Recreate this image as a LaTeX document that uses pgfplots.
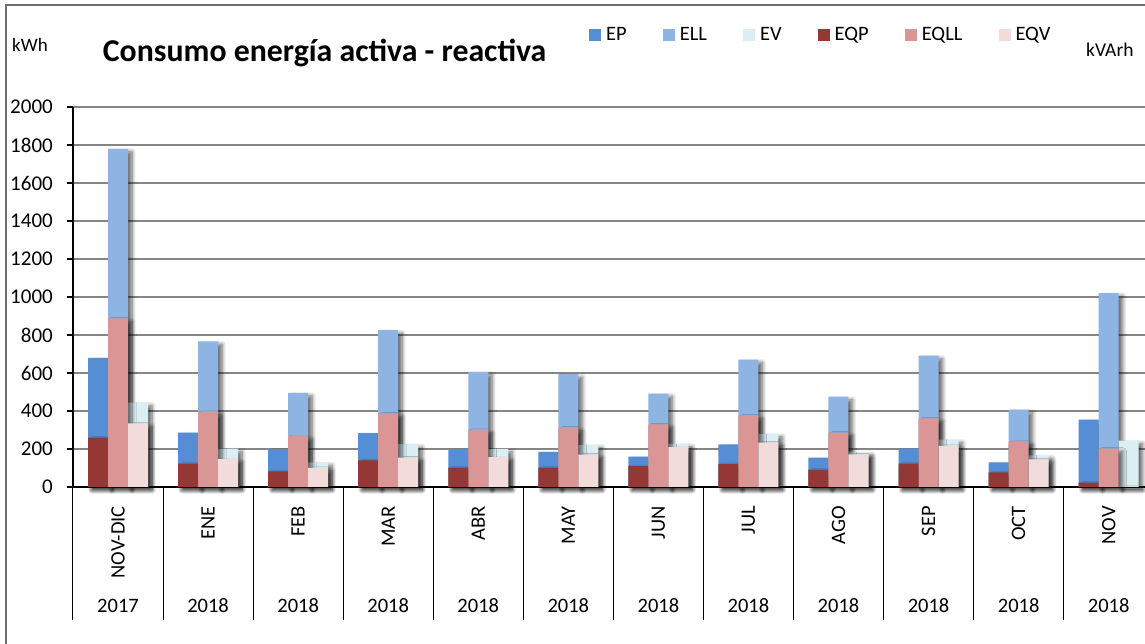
\documentclass[border=0pt]{standalone}
\usepackage{fontspec}
\setmainfont{Carlito}
\usepackage{pgfplots}
\usepackage{pgfplotstable}
\pgfplotsset{compat=1.18}
\usetikzlibrary{shadows.blur}
\definecolor{cEP}{HTML}{558ED5}
\definecolor{cELL}{HTML}{8EB4E3}
\definecolor{cEV}{HTML}{DBEEF4}
\definecolor{cEQP}{HTML}{953735}
\definecolor{cEQLL}{HTML}{D99694}
\definecolor{cEQV}{HTML}{F2DCDB}
\definecolor{gridgray}{HTML}{868686}
\definecolor{framegray}{HTML}{6E6E6E}
\tikzset{shad/.style={blur shadow={shadow xshift=4pt, shadow yshift=-3pt, shadow blur radius=4pt, shadow opacity=60, shadow blur steps=8}}}

\pgfplotstableread{
x EP ELL EV EQP EQLL EQV
0 680 1780 444 260 888 335
1 286 767 202 123 395 147
2 198 496 130 82 268 100
3 284 825 225 140 386 154
4 201 606 201 102 301 157
5 185 594 222 102 312 171
6 160 492 227 111 330 210
7 224 671 280 122 375 234
8 154 475 184 91 286 172
9 202 691 249 123 361 216
10 130 407 167 77 237 146
11 354 1021 244 23 202 0
}\datatab

\begin{document}
\begin{tikzpicture}
\useasboundingbox (-73pt,-157pt) rectangle (1072pt,487pt);
\clip (-73pt,-157pt) rectangle (1072pt,487pt);
\begin{axis}[
  name=ax, at={(0pt,0pt)}, anchor=south west,
  scale only axis, width=1080.7pt, height=380pt,
  xmin=-0.5, xmax=11.5, ymin=0, ymax=2000,
  axis lines*=left,
  axis line style={line width=1.2pt, black},
  ytick={0,200,...,2000},
  ymajorgrids,
  grid style={line width=1.3pt, color=gridgray},
  tick align=outside, major tick length=6pt,
  ytick style={line width=1.2pt, black},
  xtick={0,...,11},
  xticklabels={NOV-DIC,ENE,FEB,MAR,ABR,MAY,JUN,JUL,AGO,SEP,OCT,NOV},
  xtick style={draw=none},
  xticklabel style={rotate=90, anchor=east, inner sep=0pt, font=\fontsize{20.5}{24}\selectfont},
  xticklabel shift=13pt,
  yticklabel style={anchor=east, inner sep=0pt, xshift=-14pt, font=\fontsize{21}{24}\selectfont},
  /pgf/number format/assume math mode=true,
  /pgf/number format/1000 sep={},
  clip=false,
  bar width=0.2221,
  legend columns=6,
  legend style={at={(axis description cs:0.4775,1.1895)}, anchor=west, draw=none, fill=none,
    inner sep=0pt, nodes={inner sep=0pt, font=\fontsize{20.5}{24}\selectfont},
    /tikz/every odd column/.append style={column sep=5pt},
    /tikz/every even column/.append style={column sep=36pt}},
  legend image code/.code={\fill[#1] (0pt,-6pt) rectangle (12pt,6pt);},
]
\addplot[ybar, forget plot, bar shift=-0.2221, fill=cEP, draw=none, shad] table[x=x,y=EP]{\datatab};
\addplot[ybar, forget plot, bar shift=0, fill=cELL, draw=none, shad] table[x=x,y=ELL]{\datatab};
\addplot[ybar, forget plot, bar shift=0.2221, fill=cEV, draw=none, shad] table[x=x,y=EV]{\datatab};
\addplot[ybar, forget plot, bar shift=-0.2221, fill=cEQP, draw=none, shad] table[x=x,y=EQP]{\datatab};
\addplot[ybar, forget plot, bar shift=0, fill=cEQLL, draw=none, shad] table[x=x,y=EQLL]{\datatab};
\addplot[ybar, forget plot, bar shift=0.2221, fill=cEQV, draw=none, shad] table[x=x,y=EQV]{\datatab};
\addlegendimage{fill=cEP, draw=none}\addlegendentry{EP}
\addlegendimage{fill=cELL, draw=none}\addlegendentry{ELL}
\addlegendimage{fill=cEV, draw=none}\addlegendentry{EV}
\addlegendimage{fill=cEQP, draw=none}\addlegendentry{EQP}
\addlegendimage{fill=cEQLL, draw=none}\addlegendentry{EQLL}
\addlegendimage{fill=cEQV, draw=none}\addlegendentry{EQV}
\end{axis}
% category separators and year row
\foreach \i in {0,...,12} \draw[line width=1pt, black] ({\i*90.06pt},0pt) -- ++(0pt,-133pt);
\node[font=\fontsize{20.5}{24}\selectfont] at ({0.5*90.06pt},-119pt) {2017};
\foreach \i in {1,...,11} \node[font=\fontsize{20.5}{24}\selectfont] at ({(\i+0.5)*90.06pt},-119pt) {2018};
% titles
\node[anchor=base west, inner sep=0pt, font=\fontsize{31.8}{36}\selectfont\bfseries] at (29.7pt,425.3pt) {Consumo energía activa - reactiva};
\node[anchor=base west, inner sep=0pt, font=\fontsize{19}{22}\selectfont] at (-61pt,435pt) {kWh};
\node[anchor=base west, inner sep=0pt, font=\fontsize{19.5}{22}\selectfont] at (1013pt,430pt) {kVArh};
% chart area frame
\draw[line width=1.2pt, framegray] (-67pt,-170pt) -- (-67pt,482pt) -- (1100pt,482pt);
\end{tikzpicture}
\end{document}
